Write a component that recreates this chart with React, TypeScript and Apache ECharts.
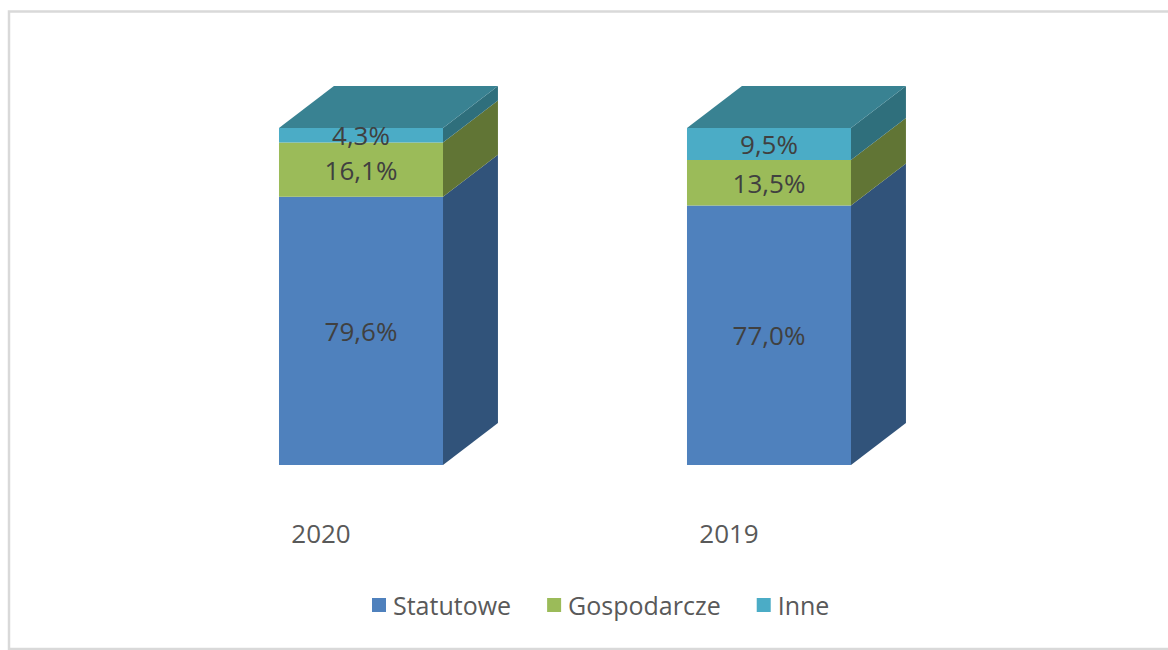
import React, { useEffect, useRef } from "react";
import * as echarts from "echarts";

const categories = ["2020", "2019"];
const statutowe = [79.6, 77.0];
const gospodarcze = [16.1, 13.5];
const inne = [4.3, 9.5];

const seriesNames = ["Statutowe", "Gospodarcze", "Inne"];
const seriesValues = [statutowe, gospodarcze, inne];
const frontColors = ["#4f81bd", "#9bbb59", "#4bacc6"];
const sideColors = ["#31537a", "#617535", "#2f6f7c"];
const topColor = "#398292";

const FONT = "'Open Sans', 'DejaVu Sans', sans-serif";

export default function App() {
  const ref = useRef<HTMLDivElement>(null);

  useEffect(() => {
    if (!ref.current) return;
    const chart = echarts.init(ref.current, undefined, { renderer: "svg" });

    const cumulative = categories.map(() => 0);
    const series = seriesValues.map((vals, si) => {
      const data = vals.map((v, ci) => {
        const lo = cumulative[ci];
        const hi = lo + v;
        cumulative[ci] = hi;
        return [ci, lo, hi, v];
      });
      return {
        type: "custom",
        name: seriesNames[si],
        clip: false,
        itemStyle: { color: frontColors[si] },
        encode: { x: 0, y: [1, 2] },
        data,
        renderItem: (params: any, api: any) => {
          const cat = api.value(0);
          const lo = api.value(1);
          const hi = api.value(2);
          const v = api.value(3);
          const band = api.size([1, 0])[0];
          const bw = band * 0.402;
          const dx = bw * 0.335;
          const dy = dx * 0.765;
          const pb = api.coord([cat, lo]);
          const pt = api.coord([cat, hi]);
          const x0 = pb[0] - bw / 2;
          const x1 = pb[0] + bw / 2;
          const yb = pb[1];
          const yt = pt[1];
          const si = params.seriesIndex;
          const children: any[] = [
            {
              type: "rect",
              shape: { x: x0, y: yt, width: bw, height: yb - yt },
              style: { fill: frontColors[si] },
            },
            {
              type: "polygon",
              shape: {
                points: [
                  [x1, yb],
                  [x1, yt],
                  [x1 + dx, yt - dy],
                  [x1 + dx, yb - dy],
                ],
              },
              style: { fill: sideColors[si] },
            },
          ];
          if (si === seriesValues.length - 1) {
            children.push({
              type: "polygon",
              shape: {
                points: [
                  [x0, yt],
                  [x1, yt],
                  [x1 + dx, yt - dy],
                  [x0 + dx, yt - dy],
                ],
              },
              style: { fill: topColor },
            });
          }
          children.push({
            type: "text",
            style: {
              x: pb[0],
              y: (yb + yt) / 2,
              text: v.toFixed(1).replace(".", ",") + "%",
              align: "center",
              verticalAlign: "middle",
              fontSize: 26,
              fontFamily: FONT,
              fill: "#404040",
            },
          });
          return { type: "group", children };
        },
      };
    });

    chart.setOption({
      animation: false,
      backgroundColor: "#ffffff",
      grid: { left: 157, right: 195, top: 128, bottom: 185 },
      xAxis: {
        type: "category",
        data: categories,
        axisLine: { show: false },
        axisTick: { show: false },
        splitLine: { show: false },
        axisLabel: {
          margin: 55,
          fontSize: 26,
          fontFamily: FONT,
          color: "#595959",
          padding: [0, 80, 0, 0],
        },
      },
      yAxis: {
        type: "value",
        min: 0,
        max: 100,
        show: false,
      },
      legend: {
        data: seriesNames,
        left: 367,
        top: 585,
        icon: "rect",
        itemWidth: 14,
        itemHeight: 14,
        itemGap: 36,
        textStyle: {
          fontSize: 25,
          fontFamily: FONT,
          color: "#595959",
          lineHeight: 30,
          padding: [0, 0, 0, 2],
        },
      },
      graphic: [
        {
          type: "rect",
          shape: { x: 9, y: 11.5, width: 1200, height: 637.5 },
          style: { fill: "none", stroke: "#d9d9d9", lineWidth: 2.5 },
          silent: true,
        },
      ],
      series,
    });

    return () => chart.dispose();
  }, []);

  return (
    <div
      ref={ref}
      style={{ position: "fixed", left: 0, top: 0, width: 1168, height: 650 }}
    />
  );
}
